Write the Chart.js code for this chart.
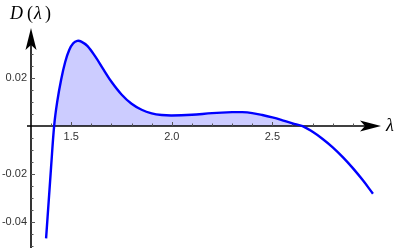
<!DOCTYPE html>
<html>
<head>
<meta charset="utf-8">
<script src="https://cdn.jsdelivr.net/npm/chart.js@4"></script>
<style>
  html, body { margin: 0; padding: 0; background: #fff; }
  #plot { display: block; }
</style>
</head>
<body>
<canvas id="plot" width="400" height="252"></canvas>
<script>
// values
const lambdaValues = [1.375, 1.39, 1.40, 1.415, 1.43, 1.45, 1.47, 1.49, 1.51, 1.53, 1.55, 1.58, 1.62, 1.66, 1.70, 1.75, 1.80, 1.85, 1.90, 1.95, 2.00, 2.10, 2.20, 2.30, 2.35, 2.40, 2.45, 2.50, 2.55, 2.60, 2.65, 2.70, 2.75, 2.80, 2.85, 2.90, 2.95, 3.00];
const dValues = [-0.047, -0.029, -0.017, 0.0, 0.0100, 0.0195, 0.0268, 0.0318, 0.0346, 0.0356, 0.0353, 0.0335, 0.0290, 0.0237, 0.0185, 0.0132, 0.0093, 0.0068, 0.0053, 0.0046, 0.0044, 0.0047, 0.0054, 0.0058, 0.0058, 0.0054, 0.0046, 0.0036, 0.0024, 0.0011, 0.0, -0.0024, -0.0054, -0.0089, -0.0130, -0.0176, -0.0227, -0.0283];

const xMajorTicks = [1.5, 2.0, 2.5];
const xTickLabels = ['1.5', '2.0', '2.5'];
const yMajorTicks = [0.02, -0.02, -0.04];
const yTickLabels = ['0.02', '-0.02', '-0.04'];

const xAxisAt = 1.3;   // where the vertical axis crosses

const points = lambdaValues.map((l, i) => ({ x: l, y: dValues[i] }));

// Mathematica style axes: arrows, ticks on the inside, labels next to the axis
const axesPlugin = {
    id: 'mathAxes',
    beforeDatasetsDraw(chart) {
        const { ctx, chartArea, scales: { x, y } } = chart;
        const ox = x.getPixelForValue(xAxisAt);
        const oy = y.getPixelForValue(0);
        const tipX = chartArea.right;
        const tipY = chartArea.top;

        ctx.save();
        ctx.strokeStyle = '#000';
        ctx.fillStyle = '#000';
        ctx.lineWidth = 1.6;

        // x axis
        ctx.beginPath();
        ctx.moveTo(ox - 4, oy);
        ctx.lineTo(tipX - 10, oy);
        ctx.stroke();
        // y axis
        ctx.beginPath();
        ctx.moveTo(ox, chartArea.bottom);
        ctx.lineTo(ox, tipY + 10);
        ctx.stroke();

        // arrow heads
        ctx.beginPath();
        ctx.moveTo(tipX, oy);
        ctx.lineTo(tipX - 21, oy - 5.5);
        ctx.lineTo(tipX - 16, oy);
        ctx.lineTo(tipX - 21, oy + 5.5);
        ctx.closePath();
        ctx.fill();

        ctx.beginPath();
        ctx.moveTo(ox, tipY);
        ctx.lineTo(ox - 5.5, tipY + 22);
        ctx.lineTo(ox, tipY + 17);
        ctx.lineTo(ox + 5.5, tipY + 22);
        ctx.closePath();
        ctx.fill();

        // x ticks every 0.1
        ctx.lineWidth = 1;
        ctx.strokeStyle = '#555';
        for (let k = 14; k <= 29; k++) {
            const v = k / 10;
            const px = Math.round(x.getPixelForValue(v)) + 0.5;
            const major = k % 5 === 0;
            ctx.beginPath();
            ctx.moveTo(px, oy);
            ctx.lineTo(px, oy - (major ? 4 : 2.5));
            ctx.stroke();
        }
        // y ticks every 0.005
        for (let k = -10; k <= 6; k++) {
            if (k === 0) continue;
            const v = k * 0.005;
            const py = Math.round(y.getPixelForValue(v)) + 0.5;
            const major = k % 4 === 0;
            ctx.beginPath();
            ctx.moveTo(ox, py);
            ctx.lineTo(ox + (major ? 4 : 2.5), py);
            ctx.stroke();
        }

        // tick labels
        ctx.fillStyle = '#333';
        ctx.font = '11px "Liberation Sans", Arial, sans-serif';
        ctx.textAlign = 'center';
        ctx.textBaseline = 'top';
        xMajorTicks.forEach((v, i) => {
            ctx.fillText(xTickLabels[i], x.getPixelForValue(v), oy + 5);
        });
        ctx.textAlign = 'right';
        ctx.textBaseline = 'middle';
        yMajorTicks.forEach((v, i) => {
            ctx.fillText(yTickLabels[i], ox - 4, y.getPixelForValue(v));
        });

        // axis labels
        ctx.fillStyle = '#000';
        ctx.textAlign = 'left';
        ctx.textBaseline = 'alphabetic';
        ctx.font = 'italic 18px "Liberation Serif", "DejaVu Serif", serif';
        ctx.fillText('D', 10, 19);
        ctx.font = '18px "Liberation Serif", "DejaVu Serif", serif';
        ctx.fillText('(', 27, 19);
        ctx.font = 'italic 18px "Liberation Serif", "DejaVu Serif", serif';
        ctx.fillText('λ', 34, 19);
        ctx.font = '18px "Liberation Serif", "DejaVu Serif", serif';
        ctx.fillText(')', 45, 19);
        ctx.textBaseline = 'middle';
        ctx.font = 'italic 18px "Liberation Serif", "DejaVu Serif", serif';
        ctx.fillText('λ', 386, oy);

        ctx.restore();
    }
};

new Chart(document.getElementById('plot'), {
    type: 'line',
    data: {
        datasets: [{
            label: 'D(λ)',
            data: points,
            borderColor: '#0000ff',
            borderWidth: 2.4,
            pointRadius: 0,
            tension: 0.35,
            fill: {
                target: 'origin',
                above: 'rgb(204, 204, 255)',
                below: 'rgba(0, 0, 0, 0)'
            }
        }]
    },
    options: {
        responsive: false,
        animation: false,
        devicePixelRatio: 1,
        layout: {
            padding: { left: 31, right: 19, top: 28, bottom: 4 }
        },
        scales: {
            x: { type: 'linear', min: 1.3, max: 3.04, display: false },
            y: { type: 'linear', min: -0.051, max: 0.041, display: false }
        },
        plugins: {
            legend: { display: false },
            tooltip: { enabled: false },
            filler: { drawTime: 'beforeDatasetsDraw' }
        }
    },
    plugins: [axesPlugin]
});
</script>
</body>
</html>
